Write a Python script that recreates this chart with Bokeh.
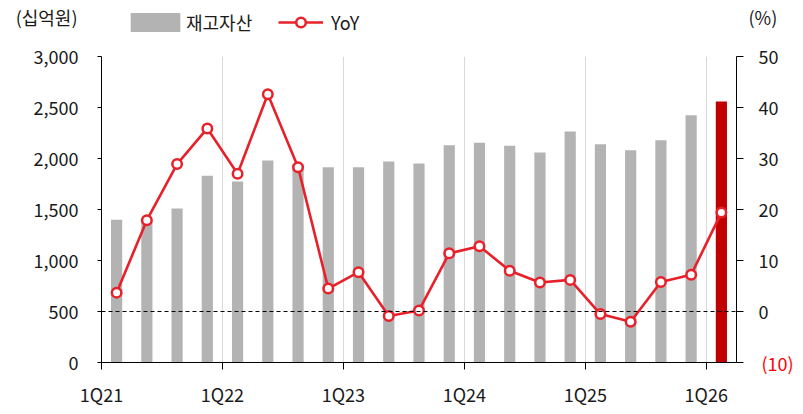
from bokeh.plotting import figure
from bokeh.layouts import column
from bokeh.models import (Range1d, LinearAxis, FixedTicker, NumeralTickFormatter, Span,
                          Legend, LegendItem, ColumnDataSource)
from bokeh.embed import file_html
from bokeh.resources import INLINE

quarters = ["1Q21", "2Q21", "3Q21", "4Q21", "1Q22", "2Q22", "3Q22", "4Q22",
            "1Q23", "2Q23", "3Q23", "4Q23", "1Q24", "2Q24", "3Q24", "4Q24",
            "1Q25", "2Q25", "3Q25", "4Q25", "1Q26"]
inventory = [1400, 1395, 1510, 1830, 1775, 1980, 1945, 1915,
             1915, 1970, 1950, 2130, 2155, 2125, 2060, 2265,
             2140, 2080, 2180, 2425, 2560]
yoy = [3.7, 17.9, 28.9, 35.9, 27.0, 42.6, 28.3, 4.5,
       7.7, -0.9, 0.2, 11.4, 12.8, 8.0, 5.7, 6.2,
       -0.5, -2.0, 5.8, 7.2, 19.4]
left_ticks = [0, 500, 1000, 1500, 2000, 2500, 3000]
right_ticks = [-10, 0, 10, 20, 30, 40, 50]
unit_left = "(십억원)"
unit_right = "(%)"
series_names = ["재고자산", "YoY"]

FONT = "Noto Sans CJK KR"
FS = "18px"
TXT = "#1a1a1a"
RED = "#e8202a"
GRAY = "#b3b3b3"
DARKRED = "#c00000"
W = 803
TOP_H = 44
MAIN_H = 414 - TOP_H

n = len(quarters)
xs = [i + 0.5 for i in range(n)]
colors = [GRAY] * (n - 1) + [DARKRED]
src = ColumnDataSource(dict(x=xs, inv=inventory, yoy=yoy, color=colors))


def style_axis(ax, line=True):
    ax.major_tick_in = 0
    ax.minor_tick_out = 0
    ax.minor_tick_in = 0
    ax.minor_tick_line_color = None
    ax.major_label_text_font = FONT
    ax.major_label_text_font_size = FS
    ax.major_label_text_color = TXT
    if line:
        ax.axis_line_color = "black"
        ax.major_tick_line_color = "black"
    else:
        ax.axis_line_color = None
        ax.major_tick_line_color = None
        ax.major_tick_out = 0


# ---------------- main chart ----------------
p = figure(width=W, height=MAIN_H, x_range=Range1d(0, n), y_range=Range1d(0, 3000),
           output_backend="svg", toolbar_location=None,
           min_border_left=101, min_border_right=67, min_border_top=12, min_border_bottom=52)
p.extra_y_ranges = {"yoy": Range1d(-10, 50)}
p.outline_line_color = None

xa = p.xaxis[0]
style_axis(xa)
xa.ticker = FixedTicker(ticks=list(range(0, n, 4)))
xa.major_label_overrides = {i: quarters[i] for i in range(0, n, 4)}
xa.major_tick_out = 7
xa.major_label_standoff = 11

ya = p.yaxis[0]
style_axis(ya)
ya.ticker = FixedTicker(ticks=left_ticks)
ya.formatter = NumeralTickFormatter(format="0,0")
ya.major_tick_out = 4
ya.major_label_standoff = 19

ra = LinearAxis(y_range_name="yoy")
style_axis(ra)
ra.ticker = FixedTicker(ticks=right_ticks)
ra.major_label_overrides = {-10: ""}
ra.major_tick_out = 7
ra.major_label_standoff = 15
p.add_layout(ra, "right")

# red "(10)" label of the right axis
ra_neg = LinearAxis(y_range_name="yoy")
style_axis(ra_neg, line=False)
ra_neg.ticker = FixedTicker(ticks=[-10])
ra_neg.major_label_overrides = {-10: "(10)"}
ra_neg.major_label_standoff = -20
ra_neg.major_label_text_color = "#ff0000"
p.add_layout(ra_neg, "right")

p.xgrid.ticker = FixedTicker(ticks=list(range(4, n, 4)))
p.xgrid.grid_line_color = "#d9d9d9"
p.xgrid.grid_line_width = 1
p.ygrid.visible = False

p.vbar(x="x", top="inv", width=0.37, fill_color="color", line_color=None, source=src)
p.add_layout(Span(location=0, dimension="width", y_range_name="yoy",
                  line_color="black", line_dash="4 3", line_width=1))
p.line(x="x", y="yoy", y_range_name="yoy", line_color=RED, line_width=2.6, source=src)
p.scatter(x="x", y="yoy", y_range_name="yoy", size=9.5, fill_color="white",
          line_color=RED, line_width=2.5, source=src)

# ---------------- header strip: units + legend ----------------
top = figure(width=W, height=TOP_H, x_range=Range1d(0, 1), y_range=Range1d(TOP_H, 0),
             x_axis_type=None, y_axis_type=None, output_backend="svg", toolbar_location=None,
             min_border_left=0, min_border_right=0, min_border_top=0, min_border_bottom=0)
top.outline_line_color = None

ul = LinearAxis(ticker=FixedTicker(ticks=[16]), major_label_overrides={16: unit_left})
style_axis(ul, line=False)
ul.major_label_standoff = 24
top.add_layout(ul, "left")
ur = LinearAxis(ticker=FixedTicker(ticks=[16]), major_label_overrides={16: unit_right})
style_axis(ur, line=False)
ur.major_label_standoff = 12
top.add_layout(ur, "right")

# legend sample glyphs (kept outside the visible range of the strip)
lg_bar = top.vbar(x=[-5], top=[-5], bottom=[-6], width=0.37, fill_color=GRAY, line_color=None)
lg_line = top.line(x=[-5, -4], y=[-5, -5], line_color=RED, line_width=2.6)
lg_pts = top.scatter(x=[-5], y=[-5], size=9.5, fill_color="white", line_color=RED, line_width=2.5)

common = dict(orientation="horizontal", margin=0, padding=0, border_line_color=None,
              background_fill_alpha=0, label_text_font=FONT, label_text_font_size=FS,
              label_text_color=TXT, glyph_height=24)
leg1 = Legend(items=[LegendItem(label=series_names[0], renderers=[lg_bar])],
              location=(23, 9), glyph_width=62, label_standoff=-4, **common)
leg2 = Legend(items=[LegendItem(label=series_names[1], renderers=[lg_line, lg_pts])],
              location=(177, 9), glyph_width=45, label_standoff=8, **common)
top.add_layout(leg1)
top.add_layout(leg2)

layout = column(top, p, spacing=0)
open("out.html", "w").write(file_html(layout, INLINE))
